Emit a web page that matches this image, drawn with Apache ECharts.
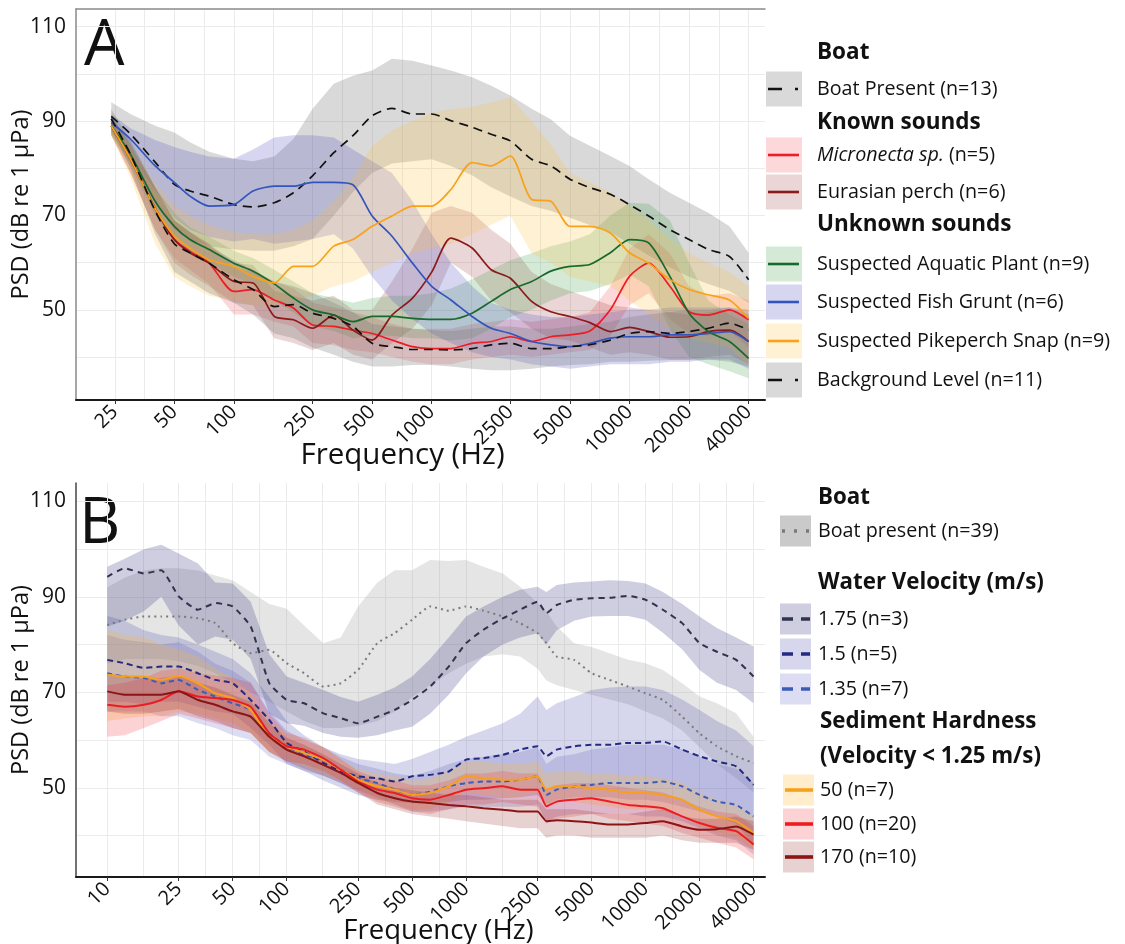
<!DOCTYPE html>
<html><head><meta charset="utf-8">
<script src="https://cdn.jsdelivr.net/npm/echarts@6/dist/echarts.min.js"></script>
<style>html,body{margin:0;padding:0;background:#fff}#c{width:1125px;height:944px}</style>
</head><body><div id="c"></div>
<script>
// ---------------- Panel A data ----------------
const freqA = [24,30,40,50,60,75,100,125,160,200,250,320,400,500,630,800,1000,1250,1600,2000,2500,3200,4000,5000,6300,8000,10000,12500,16000,20000,25000,32000,40000];
const boatA_mean = [91.0,87.3,81.3,76.6,75.2,74.1,72.3,71.8,72.7,74.8,78.4,83.3,86.9,91.1,92.7,91.5,91.5,90.1,88.7,87.2,85.8,81.9,80.5,77.7,75.9,74.5,72.3,69.9,67.0,64.9,62.8,61.3,56.4];
const boatA_hi   = [94.0,91.5,89.0,87.6,85.5,83.5,82.0,81.5,82.5,86.2,92.6,97.9,99.6,100.7,103.2,102.8,101.8,100.7,99.3,97.5,95.4,92.6,90.4,86.9,84.8,82.6,80.5,77.7,74.8,72.7,70.6,67.7,62.1];
const boatA_lo   = [87.5,81.0,73.0,67.0,65.0,63.5,62.8,62.5,62.5,63.5,65.0,70.0,75.0,79.0,81.0,81.5,81.9,80.5,78.5,76.0,74.0,72.0,71.0,69.5,68.0,66.5,64.0,61.5,59.0,57.0,55.5,54.0,51.5];
const backA_mean = [90.5,83.0,71.0,64.0,62.1,59.9,56.4,54.3,50.7,51.1,49.3,48.2,46.5,42.9,42.2,41.6,41.6,41.5,41.8,42.6,42.9,41.8,41.8,42.2,42.6,43.6,45.0,45.4,45.0,45.4,46.1,47.2,45.7];
const backA_hi   = [92.5,86.0,76.0,69.0,66.5,63.5,60.5,58.5,56.0,55.0,53.5,51.5,49.5,47.0,46.5,46.0,45.7,45.5,46.0,46.5,46.5,46.0,46.0,46.5,47.0,47.5,48.5,49.0,49.5,50.0,50.0,50.5,50.0];
const backA_lo   = [88.5,80.0,66.0,58.0,56.0,53.5,51.5,49.0,45.0,44.0,42.0,40.5,39.0,38.0,38.0,38.3,38.3,38.0,37.5,37.2,37.2,37.5,38.0,38.3,38.5,39.0,39.0,39.2,39.4,39.4,39.5,39.0,38.0];
const micro_mean = [89.0,82.0,71.5,64.9,62.4,59.9,53.9,54.3,52.1,50.4,46.8,46.5,45.7,45.0,43.6,42.2,41.8,41.8,42.9,43.3,44.3,43.3,44.3,44.7,45.5,50.0,57.1,59.9,55.0,49.6,48.9,50.0,47.9];
const micro_hi   = [91,85,76,69,66.5,64,59,58,56,54.5,51.5,50.5,49.5,48.5,47,46,46,46,47,47.5,48,47.5,48,48.5,49.5,55,63,66,62,55,53,53.5,52];
const micro_lo   = [87,79,67,61,58.5,55.5,49,49,47.5,46.5,43,42.5,41.5,41,40,39,38.5,38.5,39.5,40,40.5,40,40.5,41,41.5,44.5,51,53.5,48,45,44.5,45.5,42];
const perch_mean = [89,82,71.5,64.9,62.1,59.9,56,55.7,48.6,47.9,46.1,48.9,45.7,43.6,48.9,52.5,58.0,65.2,63.1,58.5,56.7,51.8,49.6,48.6,47.3,45.4,46.3,45.4,44.2,44.3,45.4,45.7,43.3];
const perch_hi   = [91,85,76,69,66.5,64,60,59.5,54,53,52,53,50,50,56,63,70.6,72,70.6,67,64,58,55.5,54,52.5,51,50.5,50,49.5,49,49.5,50,48.5];
const perch_lo   = [87,79,67,60,57.5,55,51.5,51,44,43,41.5,43,40.5,39.5,43,46,51,60,57,52,49.5,46,44,43.5,42,40.5,41,40.5,39.5,39.5,40,40.5,38.5];
const plant_mean = [89,83,73,67.7,64.9,62.8,59.9,58.2,55.5,52.5,50,48.9,47.5,48.6,48.6,48.2,48,48,49.3,51.8,54.3,56,58.2,59.2,59.6,62.1,64.9,64.2,57.1,49.3,45.4,43.3,39.7];
const plant_hi   = [91,85.5,76,70.5,67.5,65.5,62.5,61,58.5,56,53.5,52.5,51.5,52.5,53,53,53.5,54.5,56.5,58.5,60.5,62,63.5,64.5,66,70,72.7,72.5,69,60,52,49,47];
const plant_lo   = [87,80.5,70,64.5,62,60,57,55.5,52,49.5,46.5,45.5,44,44.5,44.5,44,44,43.5,44,46,48.5,50,52,53.5,54,55.5,57.5,55,46,40,38.5,37,35.5];
const grunt_mean = [89.7,86.2,80.5,77,74.1,72,72.3,75.2,76.2,76.2,77,77,76.5,69.9,65.6,59.9,55,52.1,48.6,46.1,45,43.3,42.6,42.2,42.9,44,44.3,44.3,44.7,44.7,45,45.4,43.3];
const grunt_hi   = [91.5,88.5,86,84.5,83.5,82.5,82,84,86.5,87,87,86.5,84,81.5,79,73,66,60,55,51.5,50,49,48.5,48.5,49,49.5,50,50,50.5,50.5,50.5,50.5,49];
const grunt_lo   = [88,82.5,75.5,69.5,67,65.5,64.5,65,64,64.5,65,66,63,57,52,48,45,43,41,40,39.5,38.5,38,37.5,38,38.5,38.5,38.5,39,39,39.5,39.5,37.5];
const snap_mean  = [89,82,71.5,65.6,63.1,60.6,59.2,57.1,55.7,59.2,59.2,63.5,64.9,67.7,69.9,72,72,75.5,81.2,80.5,82.6,73.4,73,67.7,67.7,66.3,62.1,59.9,56.4,54.3,53.2,52.1,48.2];
const snap_hi    = [90.5,85,77,72,70,68,66.5,66,66,67,69,73,78,84.8,88,90,91.8,92.5,93,94,95,90,85,79,77,75,72,69,65,62,60,58,55];
const snap_lo    = [87,78,64,57,55,53,52,51,51,52,53,55,56,58,60,62,63,64,66,68,70,62,60,57,56,55,52,49,46,44,43,42,38];

// ---------------- Panel B data ----------------
const freqB = [10,12.5,16,20,25,32,40,50,63,80,100,125,160,200,250,320,400,500,630,800,1000,1250,1600,2000,2500,2800,3200,4000,5000,6300,8000,10000,12500,16000,20000,25000,32000,40000];
const boatB_mean = [84.1,85.2,85.9,85.9,85.9,85.5,84.5,80.3,78.2,78.9,76.1,74.0,71.2,71.9,74.7,80.3,82.4,85.2,88.0,87.1,88.0,87.1,85.9,84.5,82.4,80.3,77.5,76.8,74.0,72.6,71.2,69.8,68.4,64.9,61.4,58.7,56.6,55.2];
const boatB_hi   = [92,94,95.5,96,96,95.5,94.5,93.5,91,88.5,87.5,84,80.3,81.5,88,93,95.6,95.6,97.7,97.5,97.7,96.3,94.9,92.1,88.7,87,83.8,80.3,79.5,78.2,76.8,76.1,74.7,71.9,69.1,67.7,65.6,60.7];
const boatB_lo   = [76,77,77,77,76.5,75.5,74,72,70,68,66,64,62.5,62.5,63,64,66,69,71.5,74,76,77.5,78,77.5,75,72.5,71.5,70.5,69.5,68.5,67.5,66,64.5,62,58.5,55,52,49];
const v175_mean  = [94.2,96,94.9,95.6,90.1,87.3,88.7,88,83.8,71.9,68.4,67.7,65.6,64.6,63.5,64.9,66.3,68.4,71.2,75.4,80.3,83.1,85.5,87.3,89,86.6,88.3,89.4,89.7,89.8,90.2,89.4,87.3,84.5,80.3,78.5,76.8,73.3];
const v175_hi    = [96.3,98,100,100.9,99.1,97,93,92.8,89,78,73.3,72,70.5,69,68,69.5,71,73.3,77,81.5,85.9,88,90,91.5,92.1,91,92.5,93,93.2,93.5,93.3,92.8,91,88.5,85.9,83.5,81.5,79.6];
const v175_lo    = [83.8,85,87,90,84,80,81.7,81,77,65.5,63.5,63,61.5,60.7,60.5,61,62,62.8,65.5,69.5,74,77.5,80,81.5,82.4,80,83,85,85.9,86,86,85.2,82.5,79,74.7,72,70.5,67.7];
const v150_mean  = [76.8,76.1,75.1,75.4,75.4,74,72.6,71.9,68.4,64.2,59.4,57.6,55.2,53.4,52.4,52,51.3,52.4,52.7,53.4,55.9,56.2,56.9,58,58.7,56.6,58,58.7,59,59,59.4,59.4,59.7,58,56.6,55.5,54.5,50.6];
const v150_hi    = [86,85,83,82,81.5,80,78.5,77,74,69,64,61,58.5,57,56,55.5,55,56,57.5,59,60.7,62,63.5,65.5,69.1,66.3,67.7,69,70.5,71,71.2,71.2,70.5,68.5,66.3,64,62,58.7];
const v150_lo    = [68,68,67.5,68,68,67,66,65.5,62.5,59,55,53.5,51.5,50,48.5,47.5,47,46.8,46.8,47,47.5,47.5,47.8,48,48.5,46.5,47.5,48,48,48,47.5,47.5,47,46,45,44,42.5,38];
const v135_mean  = [74,73.3,73,71.9,72.6,70.5,69.1,67.7,66.3,61.4,58.7,56.9,55.9,53.8,52,51,49.6,48.5,49.2,50.3,51,51.3,51.3,51.7,52.4,48.5,49.6,50.3,50.6,51,51,51,51.3,50.3,48.5,47.1,46.4,44];
const v135_hi    = [82,81,80.5,80,80.5,78.5,76,74.5,72,66,62,60,58.5,56.5,55,54,53,52.5,53.5,55,56,56.5,57,57.5,58.5,55,56.5,57,58,58.5,59,59,59,58,56.5,55,54,51];
const v135_lo    = [66,66,66,65,65,63.5,62.5,61,60,56.5,55,53.5,52.5,51,49.5,48,46.5,45,45,45.5,46,46,46,46,46.5,43,44,44.5,44.5,44.5,44.5,44,44,43,41.5,40,39,36];
const h50_mean   = [73.7,73.3,73.3,72.6,73.4,71.9,69.8,68.8,66.3,60.7,58.7,57.3,55.9,53.8,51.7,50.3,49.6,48.5,48.9,50.3,52.4,52,51.7,51.7,52.4,49.6,50.3,50.3,49.9,49.6,48.9,48.9,48.5,47.5,45.4,44,43,40.5];
const h50_hi     = [83,82,81.5,80,79,77.5,75,73,70,64,61.5,60,58.5,56,54,53,52.5,51.5,52,53.5,55.5,55.5,55,55,55.5,53,53.5,53.5,53,53,52.5,52.5,52,51,49,47.5,46.5,44];
const h50_lo     = [64,64.5,65,65,66,65.5,64.5,63.5,61.5,57.5,56,54.5,53,51.5,49.5,47.5,46.5,45.5,45.5,47,49,48.5,48,48,49,46,47,47,46.5,46,45.5,45.5,45,44,42,40.5,39.5,37];
const h100_mean  = [67.4,67,67.4,68.4,70.2,69.1,68.8,68.4,67,61.4,58.7,58,56.2,53.8,51.3,49.6,48.9,47.8,47.5,48.5,49.6,49.9,50.3,49.6,49.6,46.1,47.1,47.5,47.8,47.1,46.4,46.1,45.7,44,42.6,41.6,40.9,38.1];
const h100_hi    = [71.5,72,73,74.5,75,74,73.5,73,72,65.5,61.5,60.5,58.5,56,53.5,52,51.5,50.5,50.5,51.5,53,53,53.5,53,53,49.5,50.5,51,51,50.5,50,49.5,49,47.5,46,45,44.5,42];
const h100_lo    = [60.7,61,62.5,64,65.5,64.5,63.5,62.5,61.5,57.5,55.5,55,53.5,51.5,49,47,46,45,44.5,45.5,46.5,46.5,47,46.5,46,42.5,43.5,44,44.5,43.5,43,42.5,42,40.5,39.5,38.5,37.5,35];
const h170_mean  = [70.2,69.5,69.5,69.5,70.2,68.4,67.4,66,64.9,60.7,58,56.6,54.8,53.1,51,48.9,47.8,47.1,46.8,46.4,46.1,45.7,45.4,45,45,43,43.2,43,42.7,42.3,42.3,42.6,43,41.9,41.2,41.3,41.9,40.2];
const h170_hi    = [74,73.5,73,73,73.5,72,71,69.5,68,63.5,60.5,59,57,55,53,51,50,49.5,49,48.5,48.5,48,47.5,47.5,47.5,45.5,45.5,45.5,45,44.5,44.5,45,45.5,44,43.5,43.5,44,43];
const h170_lo    = [66,65.5,65.5,66,66.5,65,64,62.5,61.5,57.5,55.5,54,52.5,51,49,46.5,45.5,44.5,44,43.5,43,42.5,42,41.5,41.5,39.5,40,40,39.5,39.5,39.5,39.5,40,39,38.5,38.5,38.5,37];

// ---------------- ticks & labels ----------------
const ticksA = [25,50,100,250,500,1000,2500,5000,10000,20000,40000];
const ticksB = [10,25,50,100,250,500,1000,2500,5000,10000,20000,40000];
const yLabels = [50,70,90,110];
const yGrid = [40,50,60,70,80,90,100,110];

const legendA_heads = ['Boat','Known sounds','Unknown sounds'];
const legendA_items = ['Boat Present (n=13)','Micronecta sp.|(n=5)','Eurasian perch (n=6)','Suspected Aquatic Plant (n=9)','Suspected Fish Grunt (n=6)','Suspected Pikeperch Snap (n=9)','Background Level (n=11)'];
const legendB_heads = ['Boat','Water Velocity (m/s)','Sediment Hardness','(Velocity < 1.25 m/s)'];
const legendB_items = ['Boat present (n=39)','1.75 (n=3)','1.5 (n=5)','1.35 (n=7)','50 (n=7)','100 (n=20)','170 (n=10)'];

// ---------------- styles ----------------
const FONT = "'Open Sans','Noto Sans',sans-serif";
const L = Math.log10;
const styleA = [
  {fill:'rgba(120,120,120,0.28)', line:'#111111', dash:[9,6], key:[14,13,3,60]},
  {fill:'rgba(240,40,50,0.18)', line:'#ee1c25'},
  {fill:'rgba(139,26,26,0.18)', line:'#8b1a1a'},
  {fill:'rgba(40,150,50,0.20)', line:'#17692c'},
  {fill:'rgba(70,70,190,0.22)', line:'#3355bb'},
  {fill:'rgba(255,190,60,0.22)', line:'#f9a11b'},
  {fill:'rgba(120,120,120,0.28)', line:'#111111', dash:[9,6], key:[14,13,3,60]}
];
const styleB = [
  {fill:'rgba(160,160,160,0.27)', keyFill:'rgba(150,150,150,0.5)', line:'#7a7a7a', dash:[2,4], key:[3,9]},
  {fill:'rgba(60,60,130,0.25)', line:'#30334d', dash:[6,5], key:[11,8]},
  {fill:'rgba(70,70,170,0.22)', line:'#232a80', dash:[6,4], key:[11,8]},
  {fill:'rgba(80,80,190,0.20)', line:'#3a5db8', dash:[5,4], key:[11,8]},
  {fill:'rgba(255,185,50,0.25)', line:'#f7a01b'},
  {fill:'rgba(240,50,60,0.22)', line:'#ec1c24'},
  {fill:'rgba(139,26,26,0.20)', line:'#8b1414'}
];
const seriesA = [
  [boatA_mean,boatA_lo,boatA_hi],[micro_mean,micro_lo,micro_hi],[perch_mean,perch_lo,perch_hi],
  [plant_mean,plant_lo,plant_hi],[grunt_mean,grunt_lo,grunt_hi],[snap_mean,snap_lo,snap_hi],
  [backA_mean,backA_lo,backA_hi]
];
const seriesB = [
  [boatB_mean,boatB_lo,boatB_hi],[v175_mean,v175_lo,v175_hi],[v150_mean,v150_lo,v150_hi],
  [v135_mean,v135_lo,v135_hi],[h50_mean,h50_lo,h50_hi],[h100_mean,h100_lo,h100_hi],[h170_mean,h170_lo,h170_hi]
];

function ribbon(xs, lo, hi, fill, xi, yi) {
  const data = xs.map((x,i)=>[L(x), lo[i], hi[i]]);
  return {
    type:'custom', xAxisIndex:xi, yAxisIndex:yi, silent:true, z:1, data,
    encode:{x:0, y:[1,2]},
    renderItem(params, api) {
      if (params.dataIndex !== 0) return null;
      const pts = [];
      for (let i=0;i<data.length;i++) pts.push(api.coord([data[i][0], data[i][2]]));
      for (let i=data.length-1;i>=0;i--) pts.push(api.coord([data[i][0], data[i][1]]));
      return {type:'polygon', shape:{points:pts}, style:{fill:fill}};
    }
  };
}
function line(xs, ys, st, xi, yi, w, smooth) {
  return {
    type:'line', xAxisIndex:xi, yAxisIndex:yi, silent:true, z:3,
    data: xs.map((x,i)=>[L(x), ys[i]]), showSymbol:false, symbol:'none', smooth:smooth,
    lineStyle:{color:st.line, width:w, type: st.dash || 'solid'}
  };
}
function mainX(grid, ext, ticks, name, size, gap, pad) {
  const logs = ticks.map(L);
  const minors = logs.slice(1).map((v,i)=>(v+logs[i])/2);
  return {gridIndex:grid, type:'value', min:ext[0], max:ext[1], position:'bottom',
    axisLine:{show:true, onZero:false, lineStyle:{color:'#1a1a1a', width:2}},
    axisTick:{show:false, customValues: logs.concat(minors).sort((a,b)=>a-b)},
    axisLabel:{show:false}, splitLine:{show:true, lineStyle:{color:'#ebebeb', width:1}},
    name:name, nameLocation:'middle', nameGap:gap, nameMoveOverlap:false,
    nameTextStyle:{fontFamily:FONT, fontSize:size, color:'#111', padding:pad}};
}
function labelX(grid, ext, ticks) {
  const logs = ticks.map(L);
  return {gridIndex:grid, type:'value', min:ext[0], max:ext[1], position:'bottom',
    axisLine:{show:false, onZero:false},
    axisTick:{show:true, customValues:logs, length:4, lineStyle:{color:'#333', width:1}},
    axisLabel:{show:true, customValues:logs, rotate:45, margin:9, fontFamily:FONT, fontSize:20, color:'#111',
      formatter:v=>String(Math.round(Math.pow(10,v)))},
    splitLine:{show:false}};
}
function mainY(grid, ext, color, name) {
  return {gridIndex:grid, type:'value', min:ext[0], max:ext[1], position:'left',
    axisLine:{show:true, onZero:false, lineStyle:{color:color, width:1.5}},
    axisTick:{show:false, customValues:yGrid},
    axisLabel:{customValues:yLabels, fontFamily:FONT, fontSize:21, color:'#111', margin:10},
    splitLine:{show:true, lineStyle:{color:'#ebebeb', width:1}},
    name:name, nameLocation:'middle', nameGap:43, nameMoveOverlap:false,
    nameTextStyle:{fontFamily:FONT, fontSize:23.5, color:'#111'}};
}

const extAx = [1.202, 4.685], extAy = [30.9, 113.75];
const extBx = [0.8256, 4.666], extBy = [31.3, 113.86];

const series = [];
seriesA.forEach((s,i)=>series.push(ribbon(freqA, s[1], s[2], styleA[i].fill, 0, 0)));
seriesB.forEach((s,i)=>series.push(ribbon(freqB, s[1], s[2], styleB[i].fill, 3, 1)));
seriesA.forEach((s,i)=>series.push(line(freqA, s[0], styleA[i], 0, 0, 1.7, 0.25)));
seriesB.forEach((s,i)=>series.push(line(freqB, s[0], styleB[i], 3, 1, 2, 0.15)));

// ---------------- legend graphics ----------------
const graphic = [];
function txt(x, y, t, size, bold) {
  graphic.push({type:'text', x:x, y:y, silent:true,
    style:{text:t, fontFamily:FONT, fontSize:size, fontWeight:bold?'bold':'normal', fill:'#111', verticalAlign:'middle', align:'left'}});
}
function key(x, y, w, h, st, lx0, lx1, lw) {
  graphic.push({type:'rect', silent:true, shape:{x:x, y:y-h/2, width:w, height:h}, style:{fill:st.keyFill || st.fill}});
  graphic.push({type:'line', silent:true, shape:{x1:lx0, y1:y, x2:lx1, y2:y},
    style:{stroke:st.line, lineWidth:lw, lineDash: st.key || null}});
}
txt(84, 47, 'A', 64, false);
txt(79, 525, 'B', 64, false);
// Legend A
const headYA = [53, 123, 225];
const itemYA = [89, 155, 192, 264, 302, 341, 380];
legendA_heads.forEach((h,i)=>txt(817, headYA[i], h, 22.5, true));
legendA_items.forEach((t,i)=>{
  key(766, itemYA[i], 36, 35, styleA[i], 768, 799, 2.6);
  if (t.indexOf('|')>=0) {
    const p = t.split('|');
    graphic.push({type:'text', x:817, y:itemYA[i], silent:true,
      style:{text:'{i|'+p[0]+'} '+p[1], fontFamily:FONT, fontSize:19.7, fill:'#111', verticalAlign:'middle',
        rich:{i:{fontStyle:'italic', fontFamily:FONT, fontSize:19.7, fill:'#111'}}}});
  } else txt(817, itemYA[i], t, 19.7, false);
});
// Legend B
const headYB = [498, 583, 722, 757];
const itemYB = [531, 619, 654, 689, 790, 824, 857];
legendB_heads.forEach((h,i)=>txt(i>=2?820:818, headYB[i], h, 22.3, true));
legendB_items.forEach((t,i)=>{
  const bx = i>=4 ? 783 : 780;
  key(bx, itemYB[i], 31, 31, styleB[i], bx+2, bx+30, 3.6);
  txt(i>=4?820:818, itemYB[i], t, 19.7, false);
});

const option = {
  animation:false,
  backgroundColor:'#ffffff',
  textStyle:{fontFamily:FONT},
  grid:[
    {left:76, right:360, top:9, height:391, containLabel:false, outerBoundsMode:'none'},
    {left:76, right:360, top:483, height:394, containLabel:false, outerBoundsMode:'none'}
  ],
  xAxis:[
    mainX(0, extAx, ticksA, 'Frequency (Hz)', 29.5, 41, [0,36,0,0]),
    labelX(0, extAx, ticksA),
    {gridIndex:0, type:'value', min:extAx[0], max:extAx[1], position:'top',
      axisLine:{show:true, onZero:false, lineStyle:{color:'#8a8a8a', width:1.5}},
      axisTick:{show:false}, axisLabel:{show:false}, splitLine:{show:false}},
    mainX(1, extBx, ticksB, 'Frequency (Hz)', 27.5, 40, [0,0,0,36]),
    labelX(1, extBx, ticksB)
  ],
  yAxis:[
    mainY(0, extAy, '#8a8a8a', 'PSD (dB re 1 μPa)'),
    mainY(1, extBy, '#444444', 'PSD (dB re 1 μPa)')
  ],
  series:series,
  graphic:graphic
};
const chart = echarts.init(document.getElementById('c'));
chart.setOption(option);
</script>
</body></html>
